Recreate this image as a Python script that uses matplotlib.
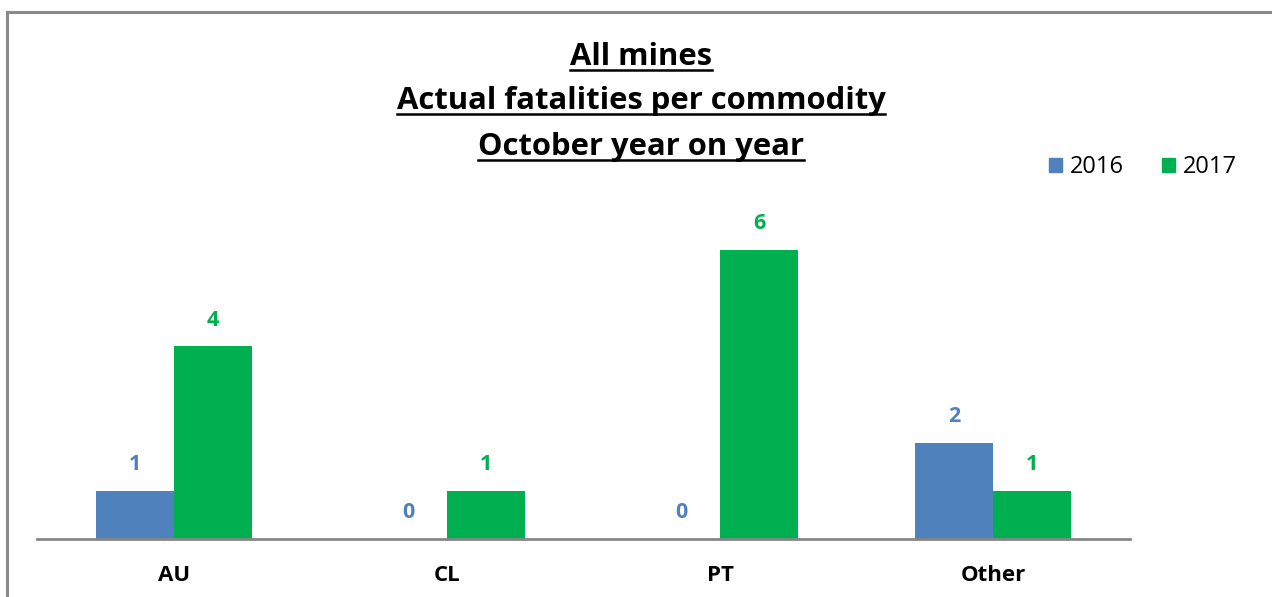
import numpy as np
import matplotlib.pyplot as plt
from matplotlib.patches import Rectangle, Patch
from matplotlib.lines import Line2D

plt.rcParams['font.family'] = ['Open Sans', 'DejaVu Sans']

categories = ['AU', 'CL', 'PT', 'Other']
vals_2016 = [1, 0, 0, 2]
vals_2017 = [4, 1, 6, 1]
title_lines = ['All mines', 'Actual fatalities per commodity', 'October year on year']

blue = '#4F81BD'
green = '#00B050'
gray = '#898989'

W, H = 1272, 597
fig = plt.figure(figsize=(W / 100, H / 100), dpi=100)

# outer chart border (extends past the right/bottom edges like the source)
fig.patches.append(Rectangle((7 / W, -0.1), 1.2, 1 - 12 / H + 0.1, transform=fig.transFigure,
                             fill=False, edgecolor=gray, linewidth=2.2))

ax = fig.add_axes([37 / W, 58 / H, 1093 / W, 337 / H])
x = np.arange(len(categories))
bw = 0.285
b1 = ax.bar(x - bw / 2, vals_2016, bw, color=blue, label='2016')
b2 = ax.bar(x + bw / 2, vals_2017, bw, color=green, label='2017')

for bars, vals, c in [(b1, vals_2016, blue), (b2, vals_2017, green)]:
    for r, v in zip(bars, vals):
        ax.annotate(str(v), (r.get_x() + r.get_width() / 2, v), xytext=(0, 19),
                    textcoords='offset points', ha='center', va='center',
                    color=c, fontsize=15.5, fontweight='bold')

ax.set_xlim(-0.5, len(categories) - 0.5)
ax.set_ylim(0, 7)
ax.set_yticks([])
ax.set_xticks(x)
ax.set_xticklabels(categories, fontsize=16, fontweight='bold')
ax.tick_params(axis='x', length=0, pad=18.5)
for s in ['top', 'right', 'left']:
    ax.spines[s].set_visible(False)
ax.spines['bottom'].set_color('#868686')
ax.spines['bottom'].set_linewidth(2)

# title, three lines with underline
title_y = [57, 101, 147]
texts = []
for t, yy in zip(title_lines, title_y):
    texts.append(fig.text(641 / W, 1 - yy / H, t, ha='center', va='center',
                          fontsize=22.3, fontweight='bold'))
fig.canvas.draw()
r = fig.canvas.get_renderer()
for t in texts:
    bb = t.get_window_extent(r)
    yline = bb.y0 + 2
    fig.lines.append(Line2D([bb.x0 / W, bb.x1 / W], [yline / H, yline / H],
                            transform=fig.transFigure, color='black', linewidth=1.8))

handles = [Patch(color=blue, label='2016'), Patch(color=green, label='2017')]
fig.legend(handles=handles, loc='center', bbox_to_anchor=(1143 / W, 1 - 167 / H),
           ncol=2, frameon=False, fontsize=17, handlelength=0.55, handleheight=0.55,
           handletextpad=0.35, columnspacing=1.6)

fig.savefig('out.png', dpi=100)
